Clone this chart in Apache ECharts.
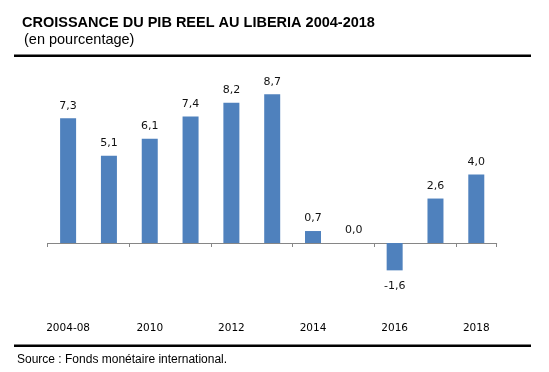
<!DOCTYPE html>
<html><head><meta charset="utf-8">
<script src="https://cdn.jsdelivr.net/npm/echarts@6/dist/echarts.min.js"></script>
<style>html,body{margin:0;padding:0;background:#fff}#c{width:549px;height:372px}</style>
</head><body><div id="c"></div>
<script>
const categories = ["2004-08","2009","2010","2011","2012","2013","2014","2015","2016","2017","2018"];
const growth = [7.3, 5.1, 6.1, 7.4, 8.2, 8.7, 0.7, 0.0, -1.6, 2.6, 4.0];
const titleText = "CROISSANCE DU PIB REEL AU LIBERIA 2004-2018";
const subtitleText = "(en pourcentage)";
const sourceText = "Source : Fonds monétaire international.";

const chart = echarts.init(document.getElementById('c'), null, {renderer:'canvas'});
chart.setOption({
  animation:false,
  backgroundColor:'#fff',
  grid:{left:47.7, right:52.3, top:72, bottom:94.8},
  xAxis:{type:'category', data:categories,
    axisLine:{onZero:true, lineStyle:{color:'#868686', width:1}},
    axisTick:{show:true, interval:1, length:4, alignWithLabel:false, lineStyle:{color:'#868686'}},
    axisLabel:{interval:1, margin:46, color:'#000', fontFamily:'DejaVu Sans', fontSize:10.5}},
  yAxis:{type:'value', min:-2, max:10, show:false, splitLine:{show:false}},
  series:[{type:'bar', barWidth:16, itemStyle:{color:'#4f81bd'},
    data:growth.map(v=>v<0?{value:v,label:{position:'bottom',distance:10}}:v),
    label:{show:true, position:'top', distance:7, color:'#111', fontFamily:'DejaVu Sans', fontSize:11,
      formatter:p=>p.value.toFixed(1).replace('.',',')}}],
  graphic:[
    {type:'text', left:22, top:15, style:{text:titleText, font:'bold 14.5px "Liberation Sans", Arial', fill:'#000'}},
    {type:'text', left:24, top:32, style:{text:subtitleText, font:'14.5px "Liberation Sans", Arial', fill:'#000'}},
    {type:'rect', shape:{x:14, y:54.5, width:517, height:2.5}, style:{fill:'#000'}},
    {type:'rect', shape:{x:14, y:344.5, width:517, height:2.5}, style:{fill:'#000'}},
    {type:'text', left:17, top:354, style:{text:sourceText, font:'12px "Liberation Sans", Arial', fill:'#000'}}
  ]
});
</script></body></html>
